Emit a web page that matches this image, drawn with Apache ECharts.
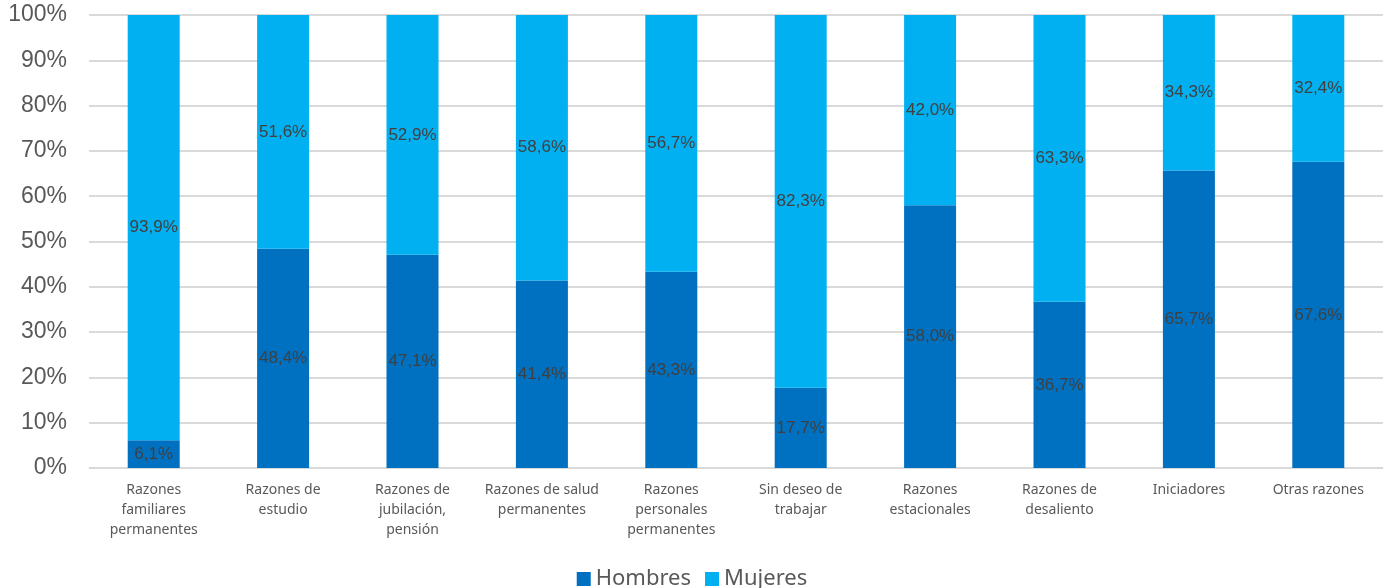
<!DOCTYPE html>
<html><head><meta charset="utf-8">
<script src="https://cdn.jsdelivr.net/npm/echarts@6/dist/echarts.min.js"></script>
<style>html,body{margin:0;padding:0;background:#fff}#c{width:1384px;height:588px}</style>
</head><body><div id="c"></div>
<script>
const categories = ["Razones\nfamiliares\npermanentes","Razones de\nestudio","Razones de\njubilación,\npensión","Razones de salud\npermanentes","Razones\npersonales\npermanentes","Sin deseo de\ntrabajar","Razones\nestacionales","Razones de\ndesaliento","Iniciadores","Otras razones"];
const hombres = [6.1,48.4,47.1,41.4,43.3,17.7,58.0,36.7,65.7,67.6];
const mujeres = [93.9,51.6,52.9,58.6,56.7,82.3,42.0,63.3,34.3,32.4];
const seriesNames = ["Hombres","Mujeres"];
const fmt = v => v.toFixed(1).replace('.', ',') + '%';
const chart = echarts.init(document.getElementById('c'));
const lbl = {show:true, position:'inside', color:'#404040', fontSize:17, fontFamily:'Liberation Sans', formatter:p=>fmt(p.value)};
chart.setOption({
  animation:false,
  grid:{left:89, right:1, top:15, bottom:120},
  legend:{top:563, left:'center', itemWidth:14, itemHeight:14, itemGap:14, icon:'rect',
    textStyle:{fontSize:22, color:'#595959', fontFamily:'Noto Sans'}, data:seriesNames},
  xAxis:{type:'category', data:categories,
    axisLine:{lineStyle:{color:'#d9d9d9', width:1}}, axisTick:{show:false},
    axisLabel:{color:'#595959', fontSize:14, lineHeight:20, margin:12, interval:0, fontFamily:'Noto Sans'}},
  yAxis:{type:'value', min:0, max:100, interval:10,
    axisLabel:{formatter:'{value}%', color:'#595959', fontSize:23, margin:22, fontFamily:'Liberation Sans'},
    splitLine:{lineStyle:{color:'#d9d9d9', width:2}}, axisLine:{show:false}, axisTick:{show:false}},
  series:[
    {name:seriesNames[0], type:'bar', stack:'t', data:hombres, barWidth:52, itemStyle:{color:'#0070C0'}, label:lbl},
    {name:seriesNames[1], type:'bar', stack:'t', data:mujeres, barWidth:52, itemStyle:{color:'#00B0F0'}, label:lbl}
  ]
});
</script></body></html>
